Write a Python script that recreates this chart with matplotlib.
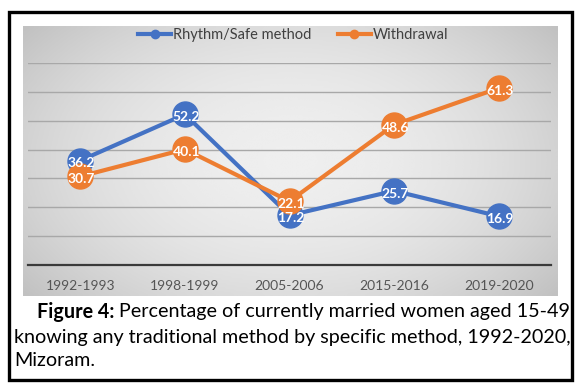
import numpy as np
import matplotlib
matplotlib.use("Agg")
import matplotlib.pyplot as plt
from matplotlib.patches import Rectangle
from matplotlib.lines import Line2D

# ---- data ----
periods = ["1992-1993", "1998-1999", "2005-2006", "2015-2016", "2019-2020"]
rhythm = [36.2, 52.2, 17.2, 25.7, 16.9]
withdrawal = [30.7, 40.1, 22.1, 48.6, 61.3]

BLUE = "#4472C4"
ORANGE = "#ED7D31"
W, H = 586, 391


def fx(px):
    return px / W


def fy(py):
    return 1 - py / H


plt.rcParams["font.family"] = ["Lato", "DejaVu Sans"]

fig = plt.figure(figsize=(W / 100, H / 100), dpi=100)
fig.patch.set_facecolor("white")

# grey gradient panel behind the chart
ax_bg = fig.add_axes([fx(23), fy(296), fx(558) - fx(23), fy(26) - fy(296)], zorder=0)
gx = np.linspace(-1, 1, 300)
gy = np.linspace(-1, 1, 150)
XX, YY = np.meshgrid(gx, gy)
rr = np.sqrt(XX ** 2 + (YY * 0.8) ** 2)
shade = 0.935 - 0.11 * np.clip(rr, 0, 1.3) ** 2
ax_bg.imshow(shade, cmap="gray", vmin=0, vmax=1, aspect="auto", interpolation="bicubic")
ax_bg.set_axis_off()

# main plot
ax = fig.add_axes([fx(28), fy(265), fx(551) - fx(28), fy(63) - fy(265)], zorder=1)
ax.set_facecolor("none")
x = np.arange(len(periods))
ax.set_xlim(-0.5, len(periods) - 0.5)
ax.set_ylim(0, 70)
ax.set_yticks(np.arange(10, 71, 10))
ax.yaxis.grid(True, color="#a8a8a8", linewidth=1.0)
ax.set_axisbelow(True)
for s in ["left", "right", "top"]:
    ax.spines[s].set_visible(False)
ax.spines["bottom"].set_color("#3a3a3a")
ax.spines["bottom"].set_linewidth(1.6)
ax.tick_params(axis="y", left=False, labelleft=False)
ax.tick_params(axis="x", length=0, pad=11, labelsize=10, labelcolor="#555555")
ax.set_xticks(x)
ax.set_xticklabels(periods)

ax.plot(x, rhythm, color=BLUE, linewidth=3, marker="o", markersize=18, zorder=3,
        clip_on=False)
ax.plot(x, withdrawal, color=ORANGE, linewidth=3, marker="o", markersize=18, zorder=4,
        clip_on=False)

for xi, v in zip(x, rhythm):
    ax.annotate(f"{v}", (xi, v), xytext=(1, -2), textcoords="offset points",
                ha="center", va="center", color="white", fontsize=10,
                fontweight="bold", zorder=6)
for xi, v in zip(x, withdrawal):
    ax.annotate(f"{v}", (xi, v), xytext=(1, -2), textcoords="offset points",
                ha="center", va="center", color="white", fontsize=10,
                fontweight="bold", zorder=6)

# legend
handles = [
    Line2D([], [], color=BLUE, linewidth=3, marker="o", markersize=6),
    Line2D([], [], color=ORANGE, linewidth=3, marker="o", markersize=6),
]
fig.legend(handles, ["Rhythm/Safe method", "Withdrawal"], loc="center",
           bbox_to_anchor=(fx(293), fy(35)), ncol=2, frameon=False,
           fontsize=10.5, labelcolor="#404040", handlelength=2.3,
           handletextpad=0.1, columnspacing=1.8)

# caption
cap_size = 14.2
t_bold = fig.text(fx(37), fy(312), "Figure 4:", fontsize=cap_size, fontweight="bold",
                  va="center", ha="left")
renderer = fig.canvas.get_renderer()
bb = t_bold.get_window_extent(renderer)
fig.text(bb.x1 / fig.bbox.width + fx(5), fy(312),
         "Percentage of currently married women aged 15-49,",
         fontsize=cap_size, va="center", ha="left")
fig.text(fx(14), fy(337), "knowing any traditional method by specific method, 1992-2020,",
         fontsize=cap_size, va="center", ha="left")
fig.text(fx(14), fy(361), "Mizoram.", fontsize=cap_size, va="center", ha="left")

# outer frame
fig.patches.append(Rectangle((fx(9.5), fy(379.5)), fx(572) - fx(9.5), fy(11.5) - fy(379.5),
                             transform=fig.transFigure, fill=False,
                             edgecolor="black", linewidth=2.4, zorder=10))

fig.savefig("out.png", dpi=100)
